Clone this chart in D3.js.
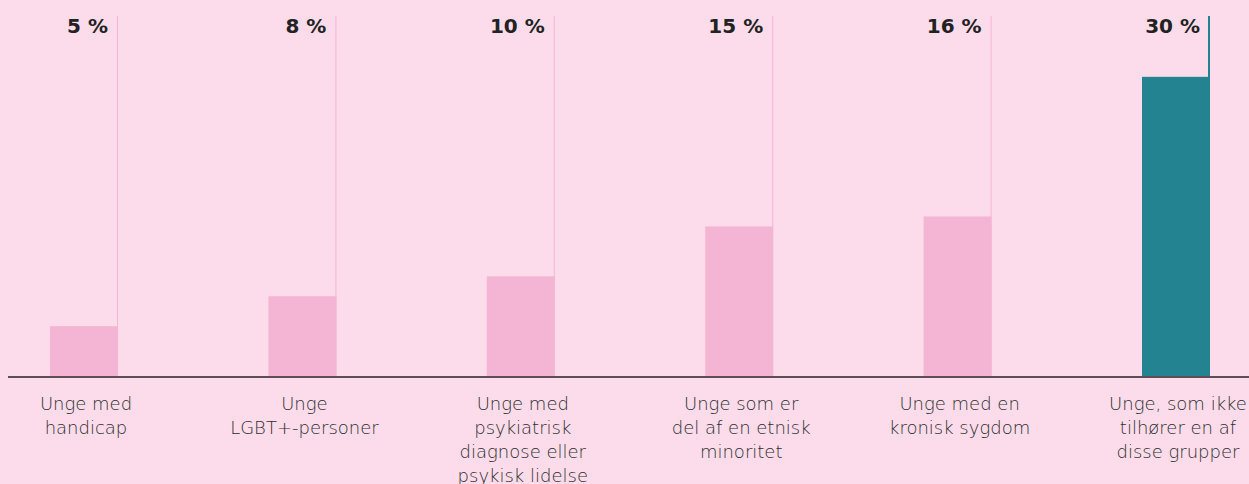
<!DOCTYPE html>
<html>
<head>
<meta charset="utf-8">
<script src="https://cdn.jsdelivr.net/npm/d3@7"></script>
<style>
  html, body { margin: 0; padding: 0; background: #fcdcea; }
  svg { display: block; font-family: "DejaVu Sans", sans-serif; }
</style>
</head>
<body>
<svg id="chart" width="1249" height="484"></svg>
<script>
const categories = [
    ['Unge med', 'handicap'],
    ['Unge', 'LGBT+-personer'],
    ['Unge med', 'psykiatrisk', 'diagnose eller', 'psykisk lidelse'],
    ['Unge som er', 'del af en etnisk', 'minoritet'],
    ['Unge med en', 'kronisk sygdom'],
    ['Unge, som ikke', 'tilhører en af', 'disse grupper']
];
const values = [5, 8, 10, 15, 16, 30];
const valueLabels = ['5 %', '8 %', '10 %', '15 %', '16 %', '30 %'];

const svg = d3.select('#chart');
const baseY = 376;
const barW = 68;

const x = d3.scalePoint()
    .domain(d3.range(values.length))
    .range([84, 1176]);

const y = d3.scaleLinear()
    .domain([0, 36.1])
    .range([baseY, 16]);

const colorFor = i => i === values.length - 1 ? '#238391' : '#f4b5d4';

// bars
svg.selectAll('rect.bar')
    .data(values)
    .join('rect')
    .attr('class', 'bar')
    .attr('x', (d, i) => x(i) - barW / 2)
    .attr('y', d => y(d))
    .attr('width', barW)
    .attr('height', d => baseY - y(d))
    .attr('fill', (d, i) => colorFor(i));

// thin guide lines at the right edge of each bar
svg.selectAll('line.guide')
    .data(values)
    .join('line')
    .attr('class', 'guide')
    .attr('x1', (d, i) => x(i) + barW / 2 - (i === values.length - 1 ? 1 : 0.5))
    .attr('x2', (d, i) => x(i) + barW / 2 - (i === values.length - 1 ? 1 : 0.5))
    .attr('y1', y.range()[1])
    .attr('y2', baseY)
    .attr('stroke', (d, i) => colorFor(i))
    .attr('stroke-width', (d, i) => i === values.length - 1 ? 2 : 1);

// value labels
svg.selectAll('text.value')
    .data(valueLabels)
    .join('text')
    .attr('class', 'value')
    .attr('x', (d, i) => x(i) + barW / 2 - 10)
    .attr('y', 33)
    .attr('text-anchor', 'end')
    .attr('font-size', 20)
    .attr('font-weight', 700)
    .attr('fill', '#222')
    .text(d => d);

// baseline
svg.append('line')
    .attr('x1', 8)
    .attr('x2', 1249)
    .attr('y1', baseY + 1)
    .attr('y2', baseY + 1)
    .attr('stroke', '#5e4d55')
    .attr('stroke-width', 2);

// category labels
const cat = svg.selectAll('text.cat')
    .data(categories)
    .join('text')
    .attr('class', 'cat')
    .attr('x', (d, i) => x(i) + 2)
    .attr('y', 410)
    .attr('text-anchor', 'middle')
    .attr('font-size', 18)
    .attr('font-weight', 200)
    .attr('fill', '#2e2e2e');

cat.selectAll('tspan')
    .data((d, i) => d.map(t => ({ t, i })))
    .join('tspan')
    .attr('x', d => x(d.i) + 2)
    .attr('dy', (d, j) => j === 0 ? 0 : 24)
    .text(d => d.t);
</script>
</body>
</html>
